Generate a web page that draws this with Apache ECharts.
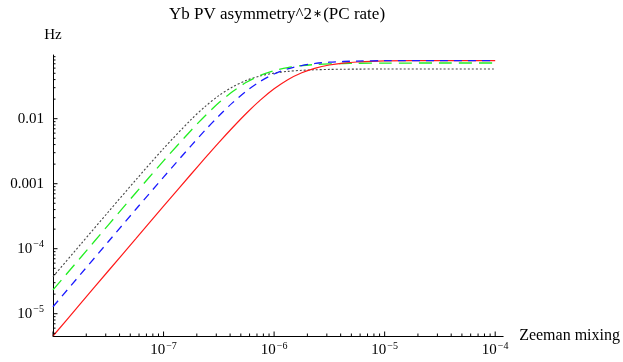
<!DOCTYPE html>
<html>
<head>
<meta charset="utf-8">
<script src="https://cdn.jsdelivr.net/npm/echarts@6/dist/echarts.min.js"></script>
<style>html,body{margin:0;padding:0;background:#fff;}#c{width:623px;height:362px;}</style>
</head>
<body>
<div id="c"></div>
<script>
// Zeeman mixing (x) values
const xVals = [1e-8, 1.78e-8, 3.16e-8, 5.62e-8, 1e-7, 1.78e-7, 2.37e-7, 3.16e-7, 4.22e-7, 5.62e-7, 7.5e-7,
  1e-6, 1.33e-6, 1.78e-6, 2.37e-6, 3.16e-6, 4.22e-6, 5.62e-6, 1e-5, 3.16e-5, 1e-4];
// Hz values per curve
const redVals = [4.54e-6, 1.44e-5, 4.54e-5, 1.43e-4, 4.52e-4, 1.41e-3, 2.47e-3, 4.29e-3, 7.32e-3, 1.214e-2, 1.928e-2,
  2.88e-2, 3.98e-2, 5.08e-2, 6.01e-2, 6.70e-2, 7.16e-2, 7.45e-2, 7.73e-2, 7.84e-2, 7.85e-2];
const blueVals = [1.28e-5, 4.06e-5, 1.28e-4, 4.04e-4, 1.262e-3, 3.86e-3, 6.61e-3, 1.102e-2, 1.767e-2, 2.674e-2, 3.76e-2,
  4.87e-2, 5.84e-2, 6.58e-2, 7.09e-2, 7.40e-2, 7.59e-2, 7.70e-2, 7.80e-2, 7.84e-2, 7.85e-2];
const greenVals = [2.32e-5, 7.33e-5, 2.31e-4, 7.26e-4, 2.245e-3, 6.65e-3, 1.103e-2, 1.754e-2, 2.62e-2, 3.63e-2, 4.64e-2,
  5.49e-2, 6.12e-2, 6.55e-2, 6.82e-2, 6.98e-2, 7.07e-2, 7.12e-2, 7.17e-2, 7.19e-2, 7.19e-2];
const grayVals = [3.71e-5, 1.17e-4, 3.67e-4, 1.146e-3, 3.48e-3, 9.74e-3, 1.532e-2, 2.262e-2, 3.09e-2, 3.89e-2, 4.55e-2,
  5.03e-2, 5.35e-2, 5.55e-2, 5.66e-2, 5.73e-2, 5.77e-2, 5.79e-2, 5.82e-2, 5.82e-2, 5.82e-2];

// axis ranges and tick labels
const xMin = 1e-8, xMax = 1.18e-4;
const yMin = 4.54e-6, yMax = 0.0955;
const xMajorTicks = [1e-8, 1e-7, 1e-6, 1e-5, 1e-4];
const yMajorTicks = [1e-5, 1e-4, 1e-3, 1e-2];
const xTickLabels = {'-7': '{b|10}{s|−7}', '-6': '{b|10}{s|−6}', '-5': '{b|10}{s|−5}', '-4': '{b|10}{s|−4}'};
const yTickLabels = {'-5': '{b|10}{s|−5}', '-4': '{b|10}{s|−4}', '-3': '0.001', '-2': '0.01'};
const titleParts = ['Yb PV asymmetry^2', '∗', '(PC rate)'];
const xName = 'Zeeman mixing';
const yName = 'Hz';

const FONT = 'Liberation Serif';

function minorTicks(majors, lo, hi) {
  const out = [];
  const startExp = Math.floor(Math.log10(lo));
  const endExp = Math.ceil(Math.log10(hi));
  for (let e = startExp; e <= endExp; e++) {
    for (let k = 1; k <= 9; k++) {
      const v = k * Math.pow(10, e);
      if (v >= lo * 0.9999 && v <= hi * 1.0001) out.push([v, k === 1]);
    }
  }
  return out;
}
const xTicks = minorTicks(xMajorTicks, xMin, 1e-4).map(t => [t[0], yMin, t[1] ? 1 : 0]);
const yTicks = minorTicks(yMajorTicks, yMin, yMax).map(t => [xMin, t[0], t[1] ? 1 : 0]);

function labelFmt(map) {
  return function (v) {
    const e = Math.log10(v);
    const r = Math.round(e);
    if (Math.abs(e - r) > 1e-6) return '';
    return map[String(r)] || '';
  };
}
const rich = {
  b: {fontFamily: FONT, fontSize: 15, color: '#000'},
  s: {fontFamily: FONT, fontSize: 10, color: '#000', padding: [0, 0, 8, 1]}
};

const chart = echarts.init(document.getElementById('c'), null, {renderer: 'canvas'});
chart.setOption({
  backgroundColor: '#fff',
  animation: false,
  title: {
    text: titleParts[0] + '{a|' + titleParts[1] + '}' + titleParts[2], left: 277, top: 6, textAlign: 'center', padding: 0,
    textStyle: {fontFamily: FONT, fontSize: 17, fontWeight: 'normal', color: '#000',
      rich: {a: {fontFamily: 'DejaVu Sans', fontSize: 11, color: '#000', padding: [0, 1, 0, 1]}}}
  },
  grid: {left: 53, right: 114, top: 55, bottom: 26, containLabel: false},
  xAxis: {
    type: 'log', logBase: 10, min: xMin, max: xMax,
    name: xName, nameLocation: 'end', nameGap: 16,
    nameTextStyle: {fontFamily: FONT, fontSize: 16, color: '#000', verticalAlign: 'middle'},
    axisLine: {show: true, lineStyle: {color: '#000', width: 1}},
    axisTick: {show: false}, splitLine: {show: false}, minorTick: {show: false},
    axisLabel: {show: true, margin: 5, formatter: labelFmt(xTickLabels), rich: rich, showMinLabel: true, showMaxLabel: true, hideOverlap: false}
  },
  yAxis: {
    type: 'log', logBase: 10, min: yMin, max: yMax,
    name: yName, nameLocation: 'end', nameGap: 12,
    nameTextStyle: {fontFamily: FONT, fontSize: 15, color: '#000', align: 'center'},
    axisLine: {show: true, lineStyle: {color: '#000', width: 1}},
    axisTick: {show: false}, splitLine: {show: false}, minorTick: {show: false},
    axisLabel: {show: true, margin: 9, formatter: labelFmt(yTickLabels), rich: rich, fontFamily: FONT, fontSize: 15, color: '#000', hideOverlap: false}
  },
  series: [
    {
      type: 'line', name: 'gray', data: xVals.map((x, i) => [x, grayVals[i]]), smooth: 0.3, symbol: 'none',
      lineStyle: {color: '#444', width: 1.1, type: [2, 2]}, z: 2
    },
    {
      type: 'line', name: 'green', data: xVals.map((x, i) => [x, greenVals[i]]), smooth: 0.3, symbol: 'none',
      lineStyle: {color: '#22ee22', width: 1.3, type: [13, 7]}, z: 3
    },
    {
      type: 'line', name: 'red', data: xVals.map((x, i) => [x, redVals[i]]), smooth: 0.3, symbol: 'none',
      lineStyle: {color: '#ff1a1a', width: 1.2, type: 'solid'}, z: 4
    },
    {
      type: 'line', name: 'blue', data: xVals.map((x, i) => [x, blueVals[i]]), smooth: 0.3, symbol: 'none',
      lineStyle: {color: '#1a1aff', width: 1.3, type: [8, 6]}, z: 5
    },
    {
      type: 'custom', name: 'xticks', data: xTicks, clip: false, silent: true, z: 10,
      renderItem: function (params, api) {
        const p = api.coord([api.value(0), api.value(1)]);
        const len = api.value(2) ? 4.5 : 2.5;
        return {type: 'line', shape: {x1: p[0], y1: p[1], x2: p[0], y2: p[1] - len}, style: {stroke: '#000', lineWidth: 1}};
      }
    },
    {
      type: 'custom', name: 'yticks', data: yTicks, clip: false, silent: true, z: 10,
      renderItem: function (params, api) {
        const p = api.coord([api.value(0), api.value(1)]);
        const len = api.value(2) ? 4.5 : 2.5;
        return {type: 'line', shape: {x1: p[0], y1: p[1], x2: p[0] + len, y2: p[1]}, style: {stroke: '#000', lineWidth: 1}};
      }
    }
  ]
});
</script>
</body>
</html>
